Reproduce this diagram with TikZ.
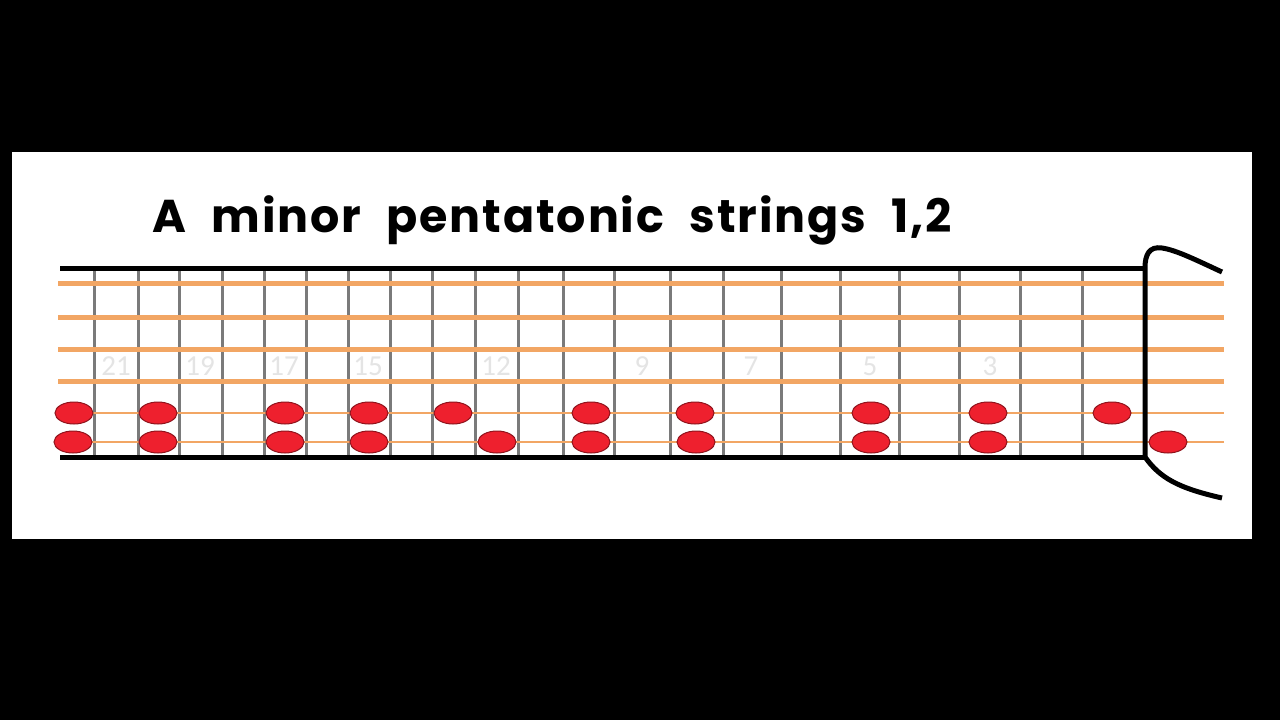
\documentclass[tikz,border=0pt]{standalone}
\usepackage{fontspec}
\usetikzlibrary{shapes.geometric}
\newfontfamily\titlefont[LetterSpace=4,WordSpace=2.2]{Poppins}
\newfontfamily\numfont{Carlito}
\definecolor{stringorange}{RGB}{242,166,100}
\definecolor{dotred}{RGB}{238,32,46}
\definecolor{fretgray}{RGB}{122,122,122}
\definecolor{numgray}{RGB}{228,228,228}

\begin{document}
\begin{tikzpicture}
[x=1pt,y=-1pt,
  dotDecorate/.style={shape=ellipse,minimum width=38pt,minimum height=22pt,inner sep=0pt,%
    fill=dotred,draw=dotred!60!black,line width=1pt},
  fretDecorate/.style={line width=3pt,draw=fretgray},
  stringDecorate/.style={line width=5pt,draw=stringorange},
  thinStringDecorate/.style={line width=2.4pt,draw=stringorange},
  edgeDecorate/.style={line width=5pt,draw=black},
  numDecorate/.style={text=numgray,font=\numfont\fontsize{29}{29}\selectfont,inner sep=0pt}]
\useasboundingbox (0,0) rectangle (1280,720);
\fill[black] (0,0) rectangle (1280,720);
\fill[white] (12,152) rectangle (1252,539);
%% title
\node (title) at (152,232) [anchor=base west,inner sep=0pt,
  font=\titlefont\bfseries\fontsize{46}{46}\selectfont] {A minor pentatonic strings 1,2};
%% frets
\foreach \x in {94,138,179,222,264,306,348,390,432,475,518,563,614,670,723,781,840,899,959,1020,1082} {
  \draw[fretDecorate] (\x,268) -- (\x,457);
}
%% fret numbers
\foreach \name/\x in {21/116, 19/200, 17/284, 15/368, 12/496, 9/642, 7/751, 5/870, 3/990} {
  \node (n\name) at (\x,366) [numDecorate] {\name};
}
%% strings
\foreach \y in {283,317,349,381} {
  \draw[stringDecorate] (58,\y) -- (1224,\y);
}
\foreach \y in {413,442} {
  \draw[thinStringDecorate] (58,\y) -- (1224,\y);
}
%% neck edges, nut and headstock
\draw[edgeDecorate] (60,268) -- (1145,268);
\draw[edgeDecorate] (60,457) -- (1145,457);
\draw[edgeDecorate] (1222,272) .. controls (1196,260) and (1176,250) .. (1162,248)
  .. controls (1149,246) and (1145,255) .. (1145,268) -- (1145,457)
  .. controls (1160,478) and (1178,488) .. (1222,498);
%% notes on string 2
\foreach \name/\x in {22/74, 20/158, 17/285, 15/369, 13/453, 10/591, 8/695, 5/871, 3/988, 1/1112} {
  \node (b\name) at (\x,413) [dotDecorate] {};
}
%% notes on string 1
\foreach \name/\x in {22/73, 20/158, 17/285, 15/369, 12/497, 10/591, 8/696, 5/871, 3/988, 0/1168} {
  \node (e\name) at (\x,442) [dotDecorate] {};
}
\end{tikzpicture}
\end{document}
